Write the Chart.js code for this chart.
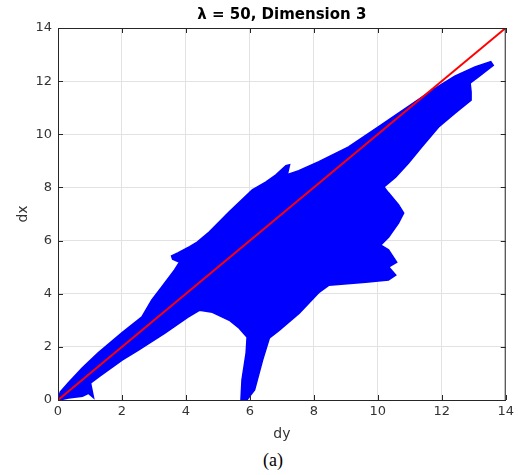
<!DOCTYPE html>
<html lang="en">
<head>
    <meta charset="UTF-8">
    <title>dx vs dy</title>
    <style>
        body {
            margin: 0;
            background-color: white;
        }
        .wrap {
            position: relative;
            width: 518px;
            height: 475px;
        }
        .caption {
            position: absolute;
            left: 0;
            top: 450px;
            width: 546px;
            text-align: center;
            font-family: "Liberation Serif", serif;
            font-size: 18px;
            color: #000;
        }
    </style>
</head>
<body>
    <div class="wrap">
        <canvas id="chart" width="518" height="450"></canvas>
        <div class="caption">(a)</div>
    </div>

    <script src="https://cdn.jsdelivr.net/npm/chart.js"></script>
    <script>
        // outline of the blue point cloud (dy, dx), traced clockwise from the origin
        const blobX = [0, 0.08, 0.33, 0.76, 1.26, 2.0, 2.63, 2.94, 3.25, 3.65, 3.81, 3.59, 3.56, 3.75, 4.12, 4.33,
            4.74, 5.36, 6.08, 6.51, 6.82, 7.13, 7.23, 7.16, 7.53, 8.16, 9.09, 10.02, 10.95, 11.67, 12.41, 13.04,
            13.53, 13.6, 13.13, 12.88, 12.91, 12.91, 12.41, 11.89, 11.36, 10.95, 10.55, 10.18, 10.33, 10.64, 10.80,
            10.64, 10.33, 10.08, 10.33, 10.58, 10.33, 10.55, 10.33, 9.62, 8.47, 8.16, 7.54, 6.91, 6.60, 6.39, 6.14,
            5.92, 5.73, 5.76, 5.89, 5.92, 5.67, 5.36, 4.83, 4.43, 4.05, 3.34, 2.50, 2.0, 1.26, 1.01, 1.10, 0.95,
            0.76, 0.33, 0];
        const blobY = [0, 0.30, 0.64, 1.20, 1.77, 2.52, 3.12, 3.76, 4.25, 4.89, 5.19, 5.31, 5.42, 5.53, 5.76, 5.91,
            6.32, 7.08, 7.90, 8.20, 8.47, 8.81, 8.84, 8.47, 8.62, 8.96, 9.52, 10.27, 11.03, 11.63, 12.18, 12.53,
            12.72, 12.6, 12.16, 11.93, 11.59, 11.29, 10.80, 10.27, 9.52, 8.92, 8.39, 8.02, 7.79, 7.34, 7.04,
            6.66, 6.13, 5.83, 5.65, 5.19, 5.01, 4.70, 4.52, 4.44, 4.33, 4.06, 3.27, 2.63, 2.33, 1.51, 0.38,
            0.04, 0.04, 0.75, 1.77, 2.37, 2.71, 3.01, 3.31, 3.39, 3.12, 2.52, 1.88, 1.51, 0.87, 0.64, 0.11, 0.26,
            0.15, 0.08, 0];

        // reference line dx = dy
        const diagX = [0, 14];
        const diagY = [0, 14];

        const tickValues = [0, 2, 4, 6, 8, 10, 12, 14];

        const axisFont = { family: 'DejaVu Sans', size: 13 };
        const axisColor = '#333333';

        // box round the plot plus inward tick marks on all four sides
        const frame = {
            id: 'frame',
            afterDraw(chart) {
                const { ctx, chartArea: a, scales } = chart;
                ctx.save();
                ctx.strokeStyle = '#262626';
                ctx.lineWidth = 1;
                ctx.beginPath();
                ctx.moveTo(a.left, a.top + 0.5);
                ctx.lineTo(a.right, a.top + 0.5);
                ctx.moveTo(a.right - 0.5, a.top);
                ctx.lineTo(a.right - 0.5, a.bottom);
                tickValues.forEach(v => {
                    const px = Math.round(scales.x.getPixelForValue(v)) + 0.5;
                    ctx.moveTo(px, a.bottom);
                    ctx.lineTo(px, a.bottom - 5);
                    ctx.moveTo(px, a.top);
                    ctx.lineTo(px, a.top + 5);
                    const py = Math.round(scales.y.getPixelForValue(v)) + 0.5;
                    ctx.moveTo(a.left, py);
                    ctx.lineTo(a.left + 5, py);
                    ctx.moveTo(a.right, py);
                    ctx.lineTo(a.right - 5, py);
                });
                ctx.stroke();
                ctx.restore();
            }
        };

        new Chart(document.getElementById('chart'), {
            type: 'line',
            data: {
                datasets: [{
                    data: diagX.map((x, i) => ({ x: x, y: diagY[i] })),
                    borderColor: '#ff0000',
                    borderWidth: 2,
                    pointRadius: 0,
                    fill: false
                }, {
                    data: blobX.map((x, i) => ({ x: x, y: blobY[i] })),
                    borderColor: '#0000ff',
                    backgroundColor: '#0000ff',
                    borderWidth: 2,
                    pointRadius: 0,
                    tension: 0,
                    fill: 'shape'
                }]
            },
            options: {
                responsive: false,
                animation: false,
                layout: { padding: { left: 0, right: 10, top: 0, bottom: 0 } },
                plugins: {
                    legend: { display: false },
                    tooltip: { enabled: false },
                    title: {
                        display: true,
                        text: 'λ = 50, Dimension 3',
                        fullSize: false,
                        color: '#000',
                        font: { family: 'DejaVu Sans', size: 15, weight: 'bold' },
                        padding: { top: 6, bottom: 4 }
                    }
                },
                scales: {
                    x: {
                        type: 'linear',
                        min: 0,
                        max: 14,
                        ticks: { stepSize: 2, color: axisColor, font: axisFont, padding: 4 },
                        grid: { color: '#e2e2e2', drawTicks: false },
                        border: { color: '#262626' },
                        title: {
                            display: true, text: 'dy', color: axisColor,
                            font: { family: 'DejaVu Sans', size: 14 },
                            padding: { top: 0, bottom: 7 }
                        },
                        afterFit(scale) { scale.height = 50; }
                    },
                    y: {
                        type: 'linear',
                        min: 0,
                        max: 14,
                        ticks: { stepSize: 2, color: axisColor, font: axisFont, padding: 6 },
                        grid: { color: '#e2e2e2', drawTicks: false },
                        border: { color: '#262626' },
                        title: {
                            display: true, text: 'dx', color: axisColor,
                            font: { family: 'DejaVu Sans', size: 14 },
                            padding: { top: 15, bottom: 0 }
                        },
                        afterFit(scale) { scale.width = 58; }
                    }
                }
            },
            plugins: [frame]
        });
    </script>
</body>
</html>
